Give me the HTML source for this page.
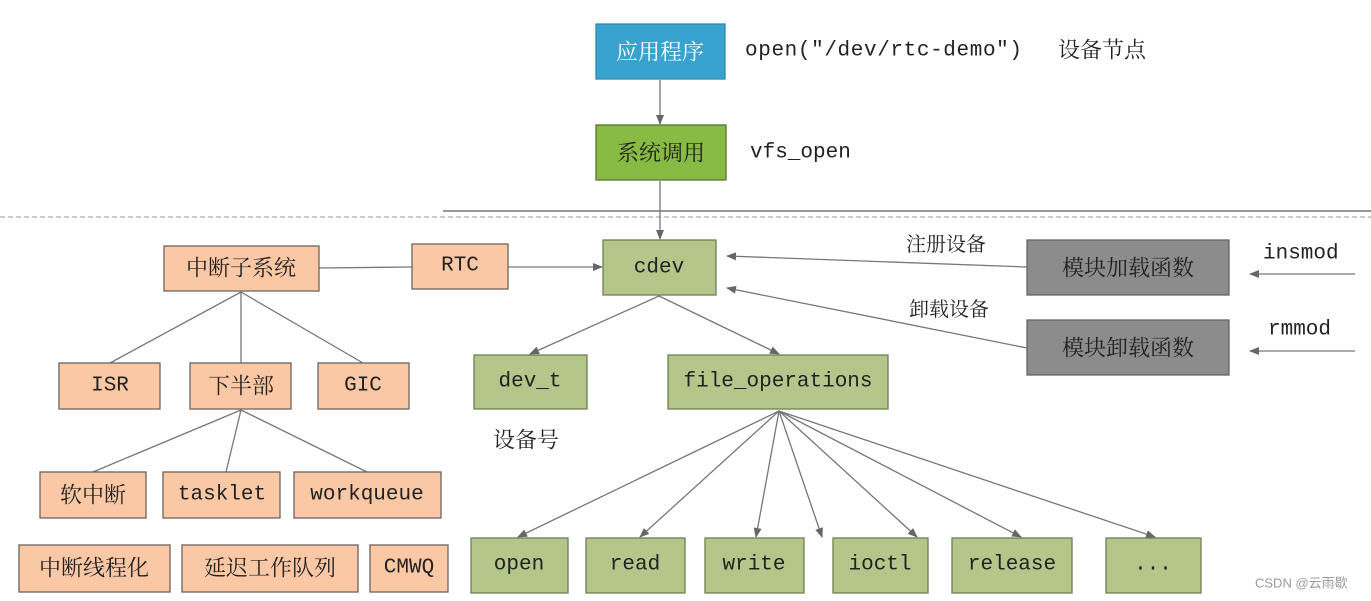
<!DOCTYPE html>
<html><head><meta charset="utf-8"><style>
html,body{margin:0;padding:0;background:#fff;}
svg{display:block}
.m{font-family:"Liberation Mono","Noto Serif CJK SC",monospace;font-size:21px;fill:#222}
.c{font-family:"Liberation Serif","Noto Serif CJK SC",serif;font-size:22px;fill:#222}
</style></head><body>
<svg width="1371" height="601" viewBox="0 0 1371 601" xmlns="http://www.w3.org/2000/svg">
<defs><marker id="a" markerWidth="10" markerHeight="8" refX="9" refY="4" orient="auto" markerUnits="userSpaceOnUse"><path d="M0,0 L10,4 L0,8 Z" fill="#666"/></marker></defs>
<line x1="443" y1="211" x2="1371" y2="211" stroke="#777" stroke-width="1.5"/>
<line x1="0" y1="217" x2="1371" y2="217" stroke="#aaa" stroke-width="1.2" stroke-dasharray="5,3"/>
<g stroke="#777" stroke-width="1.3" fill="none">
<line x1="660" y1="80" x2="660" y2="124" marker-end="url(#a)"/>
<line x1="660" y1="181" x2="660" y2="239" marker-end="url(#a)"/>
<line x1="319" y1="268" x2="412" y2="267"/>
<line x1="508" y1="267" x2="602" y2="267" marker-end="url(#a)"/>
<line x1="241" y1="292" x2="110" y2="363"/>
<line x1="241" y1="292" x2="241" y2="363"/>
<line x1="241" y1="292" x2="363" y2="363"/>
<line x1="241" y1="410" x2="93" y2="472"/>
<line x1="241" y1="410" x2="226" y2="472"/>
<line x1="241" y1="410" x2="367" y2="472"/>
<line x1="659" y1="296" x2="530" y2="354" marker-end="url(#a)"/>
<line x1="659" y1="296" x2="779" y2="354" marker-end="url(#a)"/>
<line x1="1027" y1="267" x2="727" y2="256" marker-end="url(#a)"/>
<line x1="1027" y1="348" x2="727" y2="288" marker-end="url(#a)"/>
<line x1="1355" y1="274" x2="1250" y2="274" marker-end="url(#a)"/>
<line x1="1355" y1="351" x2="1250" y2="351" marker-end="url(#a)"/>
<line x1="779" y1="411" x2="518" y2="537" marker-end="url(#a)"/>
<line x1="779" y1="411" x2="640" y2="537" marker-end="url(#a)"/>
<line x1="779" y1="411" x2="756" y2="537" marker-end="url(#a)"/>
<line x1="779" y1="411" x2="822" y2="537" marker-end="url(#a)"/>
<line x1="779" y1="411" x2="917" y2="537" marker-end="url(#a)"/>
<line x1="779" y1="411" x2="1021" y2="537" marker-end="url(#a)"/>
<line x1="779" y1="411" x2="1155" y2="537" marker-end="url(#a)"/>
</g>
<g stroke-width="1.3">
<rect x="596" y="24" width="129" height="55" fill="#38a3cf" stroke="#2f89b0"/>
<rect x="596" y="125" width="130" height="55" fill="#88bb44" stroke="#557730"/>
<g fill="#b4c68a" stroke="#6f7f52">
<rect x="603" y="240" width="113" height="55"/>
<rect x="474" y="355" width="113" height="54"/>
<rect x="668" y="355" width="220" height="54"/>
<rect x="471" y="538" width="97" height="55"/>
<rect x="586" y="538" width="99" height="55"/>
<rect x="705" y="538" width="99" height="55"/>
<rect x="833" y="538" width="95" height="55"/>
<rect x="952" y="538" width="120" height="55"/>
<rect x="1106" y="538" width="95" height="55"/>
</g>
<g fill="#fbc8a6" stroke="#6e625a">
<rect x="164" y="246" width="155" height="45"/>
<rect x="412" y="244" width="96" height="45"/>
<rect x="59" y="363" width="101" height="46"/>
<rect x="190" y="363" width="101" height="46"/>
<rect x="318" y="363" width="91" height="46"/>
<rect x="40" y="472" width="106" height="46"/>
<rect x="163" y="472" width="117" height="46"/>
<rect x="294" y="472" width="147" height="46"/>
<rect x="19" y="545" width="151" height="47"/>
<rect x="182" y="545" width="176" height="47"/>
<rect x="370" y="545" width="78" height="47"/>
</g>
<g fill="#8c8c8c" stroke="#666">
<rect x="1027" y="240" width="202" height="55"/>
<rect x="1027" y="320" width="202" height="55"/>
</g>
</g>
<g text-anchor="middle" dominant-baseline="central">
<text class="c" x="660" y="52" style="fill:#fff">应用程序</text>
<text class="c" x="661" y="153">系统调用</text>
<text class="m" x="659" y="268">cdev</text>
<text class="m" x="530" y="382">dev_t</text>
<text class="m" x="778" y="382">file_operations</text>
<text class="m" x="519" y="565">open</text>
<text class="m" x="635" y="565">read</text>
<text class="m" x="754" y="565">write</text>
<text class="m" x="880" y="565">ioctl</text>
<text class="m" x="1012" y="565">release</text>
<text class="m" x="1153" y="565">...</text>
<text class="c" x="241" y="268">中断子系统</text>
<text class="m" x="460" y="266">RTC</text>
<text class="m" x="110" y="386">ISR</text>
<text class="c" x="241" y="386">下半部</text>
<text class="m" x="363" y="386">GIC</text>
<text class="c" x="93" y="495">软中断</text>
<text class="m" x="222" y="495">tasklet</text>
<text class="m" x="367" y="495">workqueue</text>
<text class="c" x="94" y="568">中断线程化</text>
<text class="c" x="270" y="568">延迟工作队列</text>
<text class="m" x="409" y="568">CMWQ</text>
<text class="c" x="1128" y="268">模块加载函数</text>
<text class="c" x="1128" y="348">模块卸载函数</text>
</g>
<g dominant-baseline="central">
<text class="m" x="745" y="51" textLength="277">open("/dev/rtc-demo")</text>
<text class="c" x="1058" y="50">设备节点</text>
<text class="m" x="750" y="153">vfs_open</text>
<text class="c" x="493" y="440">设备号</text>
<text class="c" x="906" y="245" style="font-size:20px">注册设备</text>
<text class="c" x="909" y="310" style="font-size:20px">卸载设备</text>
<text class="m" x="1263" y="254">insmod</text>
<text class="m" x="1268" y="330">rmmod</text>
<text x="1255" y="583" style="font-family:'Liberation Sans','Noto Sans CJK SC',sans-serif;font-size:13px;fill:#999">CSDN @云雨歇</text>
</g>
</svg>
</body></html>
